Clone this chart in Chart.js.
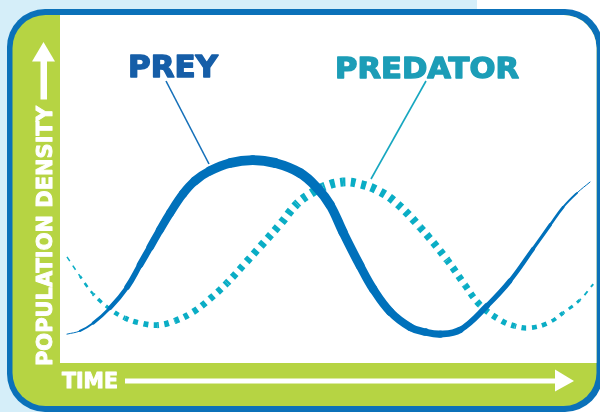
<!DOCTYPE html>
<html>
<head>
<meta charset="utf-8">
<script src="https://cdn.jsdelivr.net/npm/chart.js@4.4.1/dist/chart.umd.min.js"></script>
<style>
html,body{margin:0;padding:0;background:#fff;}
#wrap{width:600px;height:412px;position:relative;}
</style>
</head>
<body>
<div id="wrap"><canvas id="c" width="600" height="412"></canvas></div>
<script>
// ---- data (time 0..100, population density 0..100) ----
const seriesNames = ['PREY', 'PREDATOR'];
const yAxisTitle = 'POPULATION DENSITY';
const xAxisTitle = 'TIME';

const preyTime = [1.3, 3.7, 6.2, 9.3, 12.5, 14.9, 16.8, 18.6, 20.5, 22.9, 25.1, 27.9, 31.7, 35.9, 40.0, 44.7, 47.9, 50.3, 52.7, 55.9, 58.3, 61.5, 65.2, 68.0, 70.8, 74.5, 79.5, 83.8, 88.1, 91.3, 93.7, 96.3, 98.7];
const preyPop  = [8.3, 9.2, 11.5, 15.8, 21.8, 28.2, 33.3, 38.2, 43.1, 48.6, 52.3, 55.2, 57.5, 58.3, 57.5, 54.6, 50.3, 45.4, 37.6, 27.9, 21.3, 14.7, 10.3, 8.9, 8.3, 9.5, 16.4, 23.6, 32.8, 39.7, 44.8, 48.9, 52.0];

const predatorTime = [1.3, 3.7, 6.2, 9.3, 12.1, 14.9, 18.1, 21.4, 24.8, 27.9, 31.1, 34.5, 37.2, 41.0, 44.1, 46.6, 49.0, 52.7, 55.9, 59.0, 62.4, 67.0, 72.1, 75.4, 78.2, 81.9, 84.7, 87.5, 90.9, 93.7, 96.8, 99.3];
const predatorPop  = [30.5, 25.0, 19.8, 15.5, 12.9, 11.5, 10.9, 12.1, 14.7, 18.4, 23.0, 28.7, 33.3, 39.9, 45.7, 48.6, 50.6, 52.0, 51.4, 49.7, 46.3, 39.1, 29.6, 22.4, 16.7, 12.4, 10.6, 10.1, 11.5, 14.4, 18.1, 22.7];

// ---- styles ----
const COL_BG = '#d5eef9', COL_BORDER = '#0b71b9', COL_GREEN = '#b6d443';
const COL_PREY = '#0071bb', COL_PRED = '#0aadc5';
const COL_PREY_TXT = '#165ea8', COL_PRED_TXT = '#1c9db7';
const FONT = '"DejaVu Sans", "Liberation Sans", sans-serif';

// width taper knots [time, width] (style only)
const preyWidthKnots = [[0,0.4],[1.3,0.5],[6.2,2.5],[12.5,5],[18.6,8],[35.9,10],[50.3,9.5],[70.8,7],[81.9,5],[91.3,3],[96.3,1.5],[98.7,0.5],[100,0.4]];
const predWidthKnots = [[0,1],[1.3,1],[6.2,3],[12.1,5],[18.1,6],[31.1,7],[44.1,8.5],[52.7,9],[67,8],[78.2,6.5],[87.5,5],[93.7,3.5],[99.3,1.5],[100,1.5]];

function interpKnots(knots, t) {
  if (t <= knots[0][0]) return knots[0][1];
  for (let i = 1; i < knots.length; i++) {
    if (t <= knots[i][0]) {
      const [t0, w0] = knots[i-1], [t1, w1] = knots[i];
      return w0 + (w1 - w0) * (t - t0) / (t1 - t0);
    }
  }
  return knots[knots.length-1][1];
}
function segWidth(knots) {
  return ctx => {
    const sx = ctx.chart.scales.x;
    const t = sx.getValueForPixel((ctx.p0.x + ctx.p1.x) / 2);
    return interpKnots(knots, t);
  };
}
function bezLen(a, b) {
  if (a.cp2x === undefined || b.cp1x === undefined) return Math.hypot(b.x - a.x, b.y - a.y);
  let len = 0, px = a.x, py = a.y;
  for (let i = 1; i <= 12; i++) {
    const t = i / 12, u = 1 - t;
    const x = u*u*u*a.x + 3*u*u*t*a.cp2x + 3*u*t*t*b.cp1x + t*t*t*b.x;
    const y = u*u*u*a.y + 3*u*u*t*a.cp2y + 3*u*t*t*b.cp1y + t*t*t*b.y;
    len += Math.hypot(x - px, y - py); px = x; py = y;
  }
  return len;
}
function dashOffset(ctx) {
  const pts = ctx.chart.getDatasetMeta(ctx.datasetIndex).data;
  let len = 0;
  for (let i = 1; i <= ctx.p0DataIndex; i++) len += bezLen(pts[i-1], pts[i]);
  return len;
}

const preyData = preyTime.map((t, i) => ({x: t, y: preyPop[i]}));
const predData = predatorTime.map((t, i) => ({x: t, y: predatorPop[i]}));

function roundRectPath(ctx, x, y, w, h, r) {
  ctx.beginPath();
  ctx.moveTo(x + r, y);
  ctx.lineTo(x + w - r, y);
  ctx.arcTo(x + w, y, x + w, y + r, r);
  ctx.lineTo(x + w, y + h - r);
  ctx.arcTo(x + w, y + h, x + w - r, y + h, r);
  ctx.lineTo(x + r, y + h);
  ctx.arcTo(x, y + h, x, y + h - r, r);
  ctx.lineTo(x, y + r);
  ctx.arcTo(x, y, x + r, y, r);
  ctx.closePath();
}
function fitText(ctx, text, x, y, width, size, color, stroke) {
  ctx.save();
  ctx.font = 'bold ' + size + 'px ' + FONT;
  ctx.textBaseline = 'alphabetic';
  ctx.textAlign = 'left';
  const m = ctx.measureText(text).width;
  ctx.translate(x, y);
  ctx.scale(width / m, 1);
  ctx.fillStyle = color;
  ctx.fillText(text, 0, 0);
  if (stroke) {
    ctx.strokeStyle = color; ctx.lineWidth = stroke; ctx.lineJoin = 'round';
    ctx.strokeText(text, 0, 0);
  }
  ctx.restore();
}

const frame = {
  id: 'frame',
  beforeDraw(chart) {
    const ctx = chart.ctx;
    const a = chart.chartArea;
    ctx.save();
    ctx.fillStyle = '#ffffff';
    ctx.fillRect(0, 0, 600, 412);
    ctx.fillStyle = COL_BG;
    ctx.fillRect(0, 0, 477, 412);
    // outer border
    roundRectPath(ctx, 7, 9, 596, 403, 38);
    ctx.fillStyle = COL_BORDER; ctx.fill();
    // inner green panel
    roundRectPath(ctx, 12.5, 15, 584, 391, 33);
    ctx.fillStyle = COL_GREEN; ctx.fill();
    // white plot area
    ctx.save();
    ctx.clip();
    ctx.fillStyle = '#ffffff';
    ctx.fillRect(a.left, a.top, a.right - a.left + 10, a.bottom - a.top);
    ctx.restore();

    // y arrow
    ctx.fillStyle = '#ffffff';
    ctx.beginPath();
    ctx.moveTo(43.5, 42); ctx.lineTo(55, 61.5); ctx.lineTo(32, 61.5); ctx.closePath(); ctx.fill();
    ctx.fillRect(40.5, 61, 6.5, 38.5);
    // y title
    ctx.save();
    ctx.translate(52, 366);
    ctx.rotate(-Math.PI / 2);
    fitText(ctx, yAxisTitle, 0, 0, 260, 21, '#ffffff', 1);
    ctx.restore();

    // x title and arrow
    fitText(ctx, xAxisTitle, 62, 388, 56, 21, '#ffffff', 1);
    ctx.fillRect(125, 378.5, 432, 5);
    ctx.beginPath();
    ctx.moveTo(555, 369.5); ctx.lineTo(574, 381); ctx.lineTo(555, 391.5); ctx.closePath(); ctx.fill();

    // series labels with leader lines
    fitText(ctx, seriesNames[0], 128, 77, 90, 30, COL_PREY_TXT, 1.4);
    fitText(ctx, seriesNames[1], 335, 78, 184, 29, COL_PRED_TXT, 1.4);
    ctx.lineWidth = 1.6;
    ctx.strokeStyle = '#1570b9';
    ctx.beginPath(); ctx.moveTo(166, 81); ctx.lineTo(209, 164); ctx.stroke();
    ctx.strokeStyle = '#17a7c0';
    ctx.beginPath(); ctx.moveTo(426, 81); ctx.lineTo(371, 179); ctx.stroke();
    ctx.restore();
  }
};

new Chart(document.getElementById('c'), {
  type: 'line',
  data: {
    datasets: [
      {
        label: seriesNames[0],
        data: preyData,
        borderColor: COL_PREY,
        borderWidth: 8,
        borderCapStyle: 'round',
        borderJoinStyle: 'round',
        tension: 0.4,
        pointRadius: 0,
        fill: false,
        segment: { borderWidth: segWidth(preyWidthKnots) }
      },
      {
        label: seriesNames[1],
        data: predData,
        borderColor: COL_PRED,
        borderWidth: 7,
        borderDash: [5, 5.5],
        borderCapStyle: 'butt',
        tension: 0.4,
        pointRadius: 0,
        fill: false,
        segment: { borderWidth: segWidth(predWidthKnots), borderDashOffset: dashOffset }
      }
    ]
  },
  options: {
    responsive: false,
    animation: false,
    events: [],
    layout: { padding: { left: 60, right: 3, top: 15, bottom: 49 } },
    plugins: { legend: { display: false }, title: { display: false }, tooltip: { enabled: false } },
    scales: {
      x: { type: 'linear', min: 0, max: 100, display: false },
      y: { type: 'linear', min: 0, max: 100, display: false }
    }
  },
  plugins: [frame]
});
</script>
</body>
</html>
